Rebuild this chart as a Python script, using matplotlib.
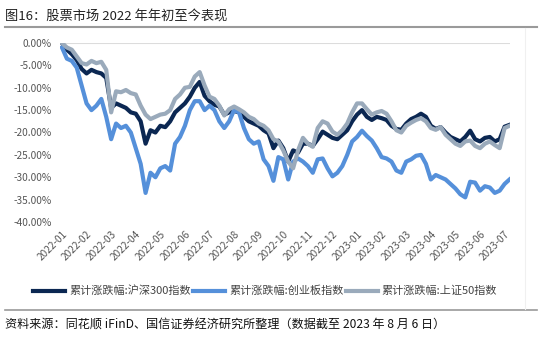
import matplotlib
matplotlib.use("Agg")
import matplotlib.pyplot as plt
from matplotlib.lines import Line2D
import numpy as np

plt.rcParams['font.family'] = ['Noto Sans CJK SC', 'DejaVu Sans']
plt.rcParams['axes.unicode_minus'] = False

# ---------------- data (cumulative change, %) ----------------
month_labels = ["2022-01", "2022-02", "2022-03", "2022-04", "2022-05", "2022-06",
                "2022-07", "2022-08", "2022-09", "2022-10", "2022-11", "2022-12",
                "2023-01", "2023-02", "2023-03", "2023-04", "2023-05", "2023-06",
                "2023-07"]

hs300 = [0.0, -1.5, -2.5, -3.8, -5.8, -6.8, -6.0, -6.5, -6.8, -7.8,
         -14.5, -13.5, -14.0, -14.5, -15.5, -15.8, -17.5, -22.5, -19.5, -20.0,
         -18.5, -18.8, -17.5, -15.5, -14.5, -13.5, -12.0, -10.0, -8.7, -11.8,
         -13.0, -13.8, -14.2, -16.0, -15.5, -15.2, -15.5, -16.5, -17.5, -18.0,
         -18.5, -19.5, -20.2, -23.5, -21.8, -23.5, -26.5, -24.0, -24.5, -22.5,
         -22.5, -23.0, -21.5, -19.8, -20.5, -21.2, -21.5, -20.5, -19.5, -17.5,
         -16.0, -15.0, -16.5, -17.2, -16.5, -16.8, -17.2, -18.5, -19.2, -19.4,
         -18.0, -17.0, -16.5, -15.8, -16.5, -18.5, -19.2, -18.8, -20.0, -21.0,
         -21.5, -22.0, -21.0, -19.6, -21.5, -22.0, -21.2, -21.0, -22.0, -21.5,
         -18.7, -18.3]

chinext = [-1.0, -3.5, -4.0, -5.5, -9.5, -13.5, -15.0, -14.0, -12.5, -16.5,
           -21.5, -18.0, -19.0, -18.5, -20.0, -23.5, -27.0, -33.5, -29.0, -30.0,
           -28.0, -27.5, -28.5, -22.5, -21.0, -18.5, -15.0, -13.0, -13.0, -15.0,
           -14.0, -15.0, -17.5, -19.0, -17.5, -15.0, -15.5, -19.0, -21.5, -22.5,
           -22.0, -26.0, -27.5, -30.8, -25.5, -26.0, -30.5, -26.5, -25.8, -26.5,
           -27.5, -29.0, -26.0, -25.8, -28.0, -29.8, -29.0, -27.5, -25.0, -22.0,
           -21.0, -19.6, -20.8, -21.8, -23.5, -25.5, -25.8, -26.5, -28.5, -29.0,
           -26.5, -26.0, -25.2, -25.0, -27.0, -30.5, -29.5, -30.0, -30.5, -31.5,
           -32.5, -33.8, -34.5, -31.0, -31.2, -33.0, -32.0, -32.3, -33.5, -33.0,
           -31.5, -30.5]

sse50 = [0.0, -1.0, -1.5, -3.0, -4.5, -4.8, -4.0, -4.5, -4.2, -6.0,
         -15.5, -10.8, -11.0, -10.5, -11.2, -11.5, -14.0, -16.0, -17.0, -16.5,
         -16.0, -15.8, -15.0, -12.5, -11.5, -10.0, -9.8, -7.5, -6.5, -9.5,
         -12.0, -12.5, -14.0, -16.2, -14.8, -14.2, -14.8, -15.5, -16.5, -17.0,
         -18.0, -18.5, -19.5, -21.5, -22.0, -24.0, -26.5, -28.0, -24.0, -21.2,
         -22.5, -23.2, -19.0, -17.5, -18.0, -19.8, -20.5, -19.5, -18.0, -15.5,
         -13.5, -13.5, -14.8, -16.0, -15.5, -15.2, -15.8, -17.5, -19.5, -20.0,
         -18.5, -17.8, -17.2, -16.8, -17.5, -19.0, -19.4, -18.8, -20.5, -21.5,
         -22.5, -23.0, -22.0, -21.8, -23.0, -23.5, -22.5, -22.0, -22.8, -23.5,
         -19.0, -18.5]

series_names = ["累计涨跌幅:沪深300指数", "累计涨跌幅:创业板指数", "累计涨跌幅:上证50指数"]
series_vals = [hs300, chinext, sse50]
colors = ["#0b2752", "#5590da", "#9aaabb"]

title = "图16：股票市场 2022 年年初至今表现"
source = "资料来源：同花顺 iFinD、国信证券经济研究所整理（数据截至 2023 年 8 月 6 日）"

# ---------------- figure ----------------
W, H = 550, 339
fig = plt.figure(figsize=(W / 100, H / 100), dpi=100)
fig.patch.set_facecolor("white")

ax = fig.add_axes([60 / W, 1 - 222 / H, 450 / W, 179 / H])
n = len(hs300)
x = np.arange(n)
per_label = 5

lines = []
for name, vals, c in zip(series_names, series_vals, colors):
    ln, = ax.plot(x, vals, color=c, lw=3.0, solid_joinstyle="round", label=name, zorder=3)
    lines.append(ln)

ax.axhline(0, color="#dcdcdc", lw=1.5, zorder=1)
ax.set_ylim(-40, 0)
ax.set_xlim(-0.4, n - 1 + 0.1)
yt = np.arange(-40, 1, 5)
ax.set_yticks(yt)
ax.set_yticklabels([f"{v:.2f}%" for v in yt], fontsize=7.3, color="#555555")
ax.set_xticks(np.arange(len(month_labels)) * per_label)
ax.set_xticklabels(month_labels, rotation=45, ha="right", rotation_mode="anchor",
                   fontsize=7.3, color="#555555")
ax.tick_params(axis="both", length=0)
ax.tick_params(axis="y", pad=6)
ax.tick_params(axis="x", pad=5)
for s in ax.spines.values():
    s.set_visible(False)

fig.legend(handles=lines, loc="center", bbox_to_anchor=(265 / W, 1 - 291 / H),
           ncol=3, frameon=False, fontsize=8, handlelength=2.9,
           handletextpad=0.35, columnspacing=0.2, labelcolor="#444444")

fig.text(5 / W, 1 - 16 / H, title, fontsize=9.5, color="#222222", va="center", ha="left")
fig.text(5 / W, 1 - 325 / H, source, fontsize=8.7, color="#111111", va="center", ha="left")

fig.add_artist(Line2D([5 / W, 537 / W], [1 - 27 / H] * 2, transform=fig.transFigure,
                      color="#9a9a9a", lw=1.5))
fig.add_artist(Line2D([5 / W, 537 / W], [1 - 310 / H] * 2, transform=fig.transFigure,
                      color="#9a9a9a", lw=1.2))
fig.add_artist(Line2D([525 / W, 525 / W], [1 - 28 / H, 1 - 309 / H], transform=fig.transFigure,
                      color="#f0f0f0", lw=0.8))

fig.savefig("out.png", dpi=100, facecolor="white")
